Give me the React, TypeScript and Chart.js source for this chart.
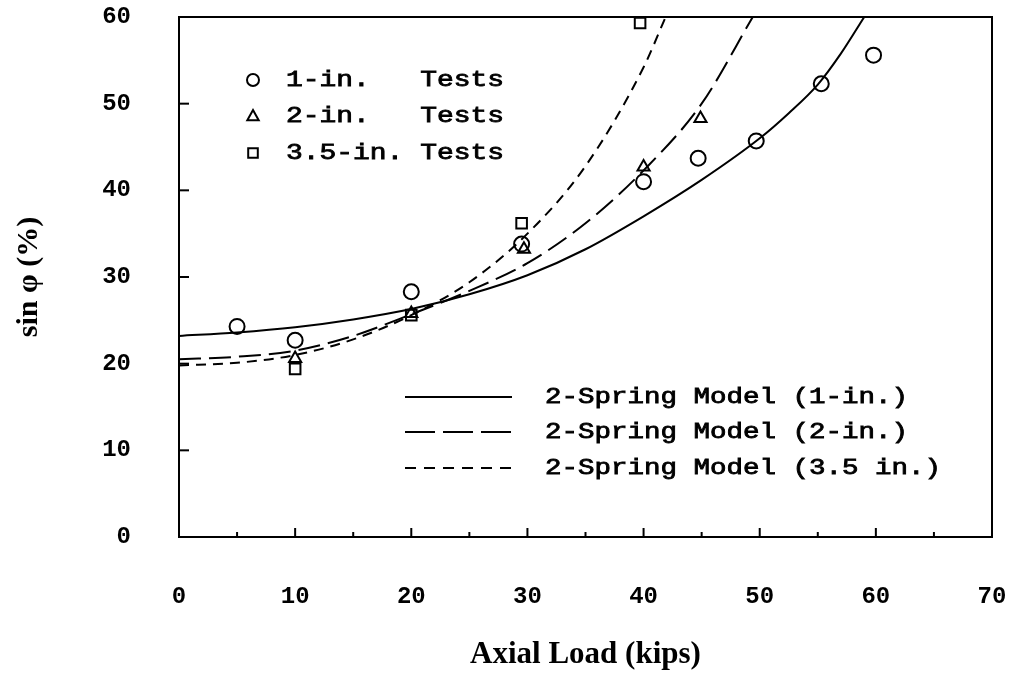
import React, { useEffect, useRef } from "react";
import { Chart, registerables } from "chart.js";

Chart.register(...registerables);

// ---- data ----
const X_TICKS = [0, 10, 20, 30, 40, 50, 60, 70];
const Y_TICKS = [0, 10, 20, 30, 40, 50, 60];

const oneInX = [5, 10, 20, 29.5, 40, 44.7, 49.7, 55.3, 59.8];
const oneInY = [24.3, 22.7, 28.3, 33.8, 41.0, 43.7, 45.7, 52.3, 55.6];

const twoInX = [10, 20, 29.7, 40, 44.9];
const twoInY = [20.6, 25.8, 33.2, 42.7, 48.3];

const threeInX = [10, 20, 29.5, 39.7];
const threeInY = [19.4, 25.6, 36.2, 59.3];

const model1X = [0, 5, 10, 15, 20, 25, 30, 35, 40, 45, 50, 52.5, 55, 57, 59];
const model1Y = [23.2, 23.6, 24.2, 25.1, 26.3, 28.0, 30.2, 33.2, 37.0, 41.2, 46.0, 48.9, 52.2, 55.8, 60];

const model2X = [0, 5, 10, 15, 20, 25, 30, 35, 40, 45, 49.4];
const model2Y = [20.5, 20.8, 21.5, 23.2, 25.7, 28.4, 31.6, 36.2, 42.3, 50.0, 60];

const model35X = [0, 5, 10, 15, 20, 25, 30, 35, 40, 41.9];
const model35Y = [19.8, 20.1, 21.0, 22.8, 25.6, 29.4, 35.0, 42.8, 54.2, 60];

const pointLabels = ["1-in.   Tests", "2-in.   Tests", "3.5-in. Tests"];
const lineLabels = ["2-Spring Model (1-in.)", "2-Spring Model (2-in.)", "2-Spring Model (3.5 in.)"];

const X_TITLE = "Axial Load (kips)";
const Y_TITLE = "sin \u03C6 (%)";

const zip = (xs: number[], ys: number[]) => xs.map((x, i) => ({ x, y: ys[i] }));

const LEGEND_FONT = "22px 'Liberation Mono', 'DejaVu Sans Mono', monospace";
const LEGEND_DASHES = [[], [30, 8], [11, 8]];

function drawMarker(ctx: CanvasRenderingContext2D, style: string, x: number, y: number, r: number) {
  ctx.beginPath();
  if (style === "circle") {
    ctx.arc(x, y, r, 0, Math.PI * 2);
  } else if (style === "triangle") {
    ctx.moveTo(x, y - r);
    ctx.lineTo(x + r * 0.95, y + r * 0.7);
    ctx.lineTo(x - r * 0.95, y + r * 0.7);
    ctx.closePath();
  } else {
    ctx.rect(x - r * 0.8, y - r * 0.8, r * 1.6, r * 1.6);
  }
  ctx.stroke();
}

function boldText(ctx: CanvasRenderingContext2D, text: string, x: number, y: number, sx: number) {
  ctx.save();
  ctx.translate(x, y);
  ctx.scale(sx, 1);
  ctx.lineWidth = 0.8;
  ctx.fillText(text, 0, 0);
  ctx.strokeText(text, 0, 0);
  ctx.restore();
}

const framePlugin = {
  id: "frameTicksLegend",
  afterDatasetsDraw(chart: any) {
    const { ctx, chartArea: a, scales } = chart;
    ctx.save();
    ctx.strokeStyle = "#000";
    ctx.lineWidth = 2;
    ctx.strokeRect(a.left, a.top, a.right - a.left, a.bottom - a.top);
    // inward x ticks (major every 10, minor every 5)
    const xs = scales.x;
    for (let v = xs.min + 5; v < xs.max; v += 5) {
      const px = xs.getPixelForValue(v);
      const len = v % 10 === 0 ? 9 : 5;
      ctx.beginPath();
      ctx.moveTo(px, a.bottom);
      ctx.lineTo(px, a.bottom - len);
      ctx.stroke();
    }
    // inward y ticks
    const ys = scales.y;
    for (let v = ys.min + 10; v < ys.max; v += 10) {
      const py = ys.getPixelForValue(v);
      ctx.beginPath();
      ctx.moveTo(a.left, py);
      ctx.lineTo(a.left + 10, py);
      ctx.stroke();
    }

    // top-left legend (test points)
    const ds = chart.data.datasets;
    ctx.fillStyle = "#000";
    ctx.font = LEGEND_FONT;
    ctx.textBaseline = "middle";
    const topRows = [80, 116, 153];
    for (let i = 0; i < 3; i++) {
      const d = ds[i];
      ctx.lineWidth = 2;
      drawMarker(ctx, d.pointStyle, 253, topRows[i], 6);
      boldText(ctx, d.label, 286, topRows[i], 1.27);
    }

    // bottom-right legend (model lines)
    const botRows = [397, 432, 468];
    for (let i = 0; i < 3; i++) {
      const d = ds[3 + i];
      ctx.save();
      ctx.lineWidth = 2;
      ctx.setLineDash(LEGEND_DASHES[i]);
      ctx.beginPath();
      ctx.moveTo(405, botRows[i]);
      ctx.lineTo(512, botRows[i]);
      ctx.stroke();
      ctx.restore();
      boldText(ctx, d.label, 545, botRows[i], 1.25);
    }
    ctx.restore();
  },
};

export default function App() {
  const ref = useRef<HTMLCanvasElement>(null);

  useEffect(() => {
    const canvas = ref.current;
    if (!canvas) return;
    const pointDs = (label: string, data: any[], style: string) => ({
      label,
      data,
      showLine: false,
      pointStyle: style,
      pointRadius: style === "triangle" ? 7 : 7.5,
      borderColor: "#000",
      backgroundColor: "rgba(0,0,0,0)",
      borderWidth: 2,
    });
    const lineDs = (label: string, data: any[], dash: number[]) => ({
      label,
      data,
      showLine: true,
      pointRadius: 0,
      borderColor: "#000",
      backgroundColor: "#000",
      borderWidth: 2,
      borderDash: dash,
      cubicInterpolationMode: "monotone",
      fill: false,
    });

    const tickFont = { family: "'Liberation Mono', 'DejaVu Sans Mono', monospace", size: 24, weight: "bold" };
    const titleFont = { family: "'Liberation Serif', 'DejaVu Serif', serif", size: 31, weight: "bold" };

    const chart = new Chart(canvas, {
      type: "scatter",
      data: {
        datasets: [
          pointDs(pointLabels[0], zip(oneInX, oneInY), "circle"),
          pointDs(pointLabels[1], zip(twoInX, twoInY), "triangle"),
          pointDs(pointLabels[2], zip(threeInX, threeInY), "rect"),
          lineDs(lineLabels[0], zip(model1X, model1Y), []),
          lineDs(lineLabels[1], zip(model2X, model2Y), [22, 8]),
          lineDs(lineLabels[2], zip(model35X, model35Y), [10, 7]),
        ] as any,
      },
      options: {
        responsive: false,
        animation: false,
        events: [],
        layout: { padding: { top: 17, right: 22, left: 0, bottom: 0 } },
        plugins: {
          legend: { display: false },
          tooltip: { enabled: false },
          title: { display: false },
        },
        scales: {
          x: {
            type: "linear",
            min: X_TICKS[0],
            max: X_TICKS[X_TICKS.length - 1],
            afterBuildTicks: (s: any) => {
              s.ticks = X_TICKS.map((v) => ({ value: v }));
            },
            afterFit: (s: any) => {
              s.height = 138;
              s.paddingLeft = 0;
              s.paddingRight = 0;
            },
            grid: { display: false, drawTicks: false },
            border: { display: false },
            ticks: { color: "#000", font: tickFont as any, padding: 46, maxRotation: 0, autoSkip: false },
            title: {
              display: true,
              text: X_TITLE,
              color: "#000",
              font: titleFont as any,
              padding: { top: 0, bottom: 1 },
            },
          },
          y: {
            type: "linear",
            min: Y_TICKS[0],
            max: Y_TICKS[Y_TICKS.length - 1],
            afterBuildTicks: (s: any) => {
              s.ticks = Y_TICKS.map((v) => ({ value: v }));
            },
            afterFit: (s: any) => {
              s.width = 179;
              s.paddingTop = 0;
              s.paddingBottom = 0;
            },
            grid: { display: false, drawTicks: false },
            border: { display: false },
            ticks: { color: "#000", font: tickFont as any, padding: 48 },
            title: {
              display: true,
              text: Y_TITLE,
              color: "#000",
              font: { ...titleFont, size: 30 } as any,
              padding: { top: 11, bottom: 0 },
            },
          },
        },
      },
      plugins: [framePlugin],
    });
    return () => chart.destroy();
  }, []);

  return (
    <div style={{ position: "fixed", left: 0, top: 0, width: 1014, height: 675, background: "#fff" }}>
      <canvas ref={ref} width={1014} height={675} style={{ display: "block" }} />
    </div>
  );
}
